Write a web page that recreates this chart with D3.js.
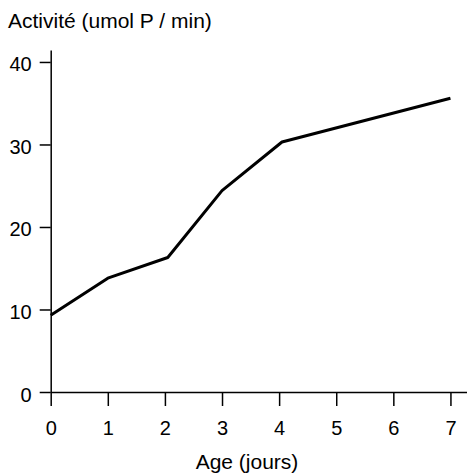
<!DOCTYPE html>
<html>
<head>
<meta charset="utf-8">
<script src="https://cdn.jsdelivr.net/npm/d3@7"></script>
<style>
  body { margin: 0; background: #fff; }
  svg { display: block; font-family: "Liberation Sans", Arial, sans-serif; }
  .axis path, .axis line { stroke: #000; stroke-width: 1.5; }
  .axis text { font-size: 20px; fill: #000; }
</style>
</head>
<body>
<div id="chart"></div>
<script>
// data
var ages = [0, 1, 2.05, 3, 4.05, 7];
var activity = [9.3, 13.8, 16.3, 24.4, 30.3, 35.6];
var xTicks = [0, 1, 2, 3, 4, 5, 6, 7];
var yTicks = [0, 10, 20, 30, 40];
var yTitle = "Activité (umol P / min)";
var xTitle = "Age (jours)";

var width = 467, height = 475;

var x = d3.scaleLinear()
    .domain([0, 7.29])
    .range([50.7, 467]);

var y = d3.scaleLinear()
    .domain([0, 41.45])
    .range([392, 50]);

var svg = d3.select("#chart").append("svg")
    .attr("width", width)
    .attr("height", height);

// axes ------------------------------------------------------------------
svg.append("g")
    .attr("class", "x axis")
    .attr("transform", "translate(0," + y(0) + ")")
    .call(d3.axisBottom(x).tickValues(xTicks).tickSizeInner(14).tickSizeOuter(0).tickPadding(15));

svg.append("g")
    .attr("class", "y axis")
    .attr("transform", "translate(" + x(0) + ",0)")
    .call(d3.axisLeft(y).tickValues(yTicks).tickSizeInner(11).tickSizeOuter(0).tickPadding(8))
  .selectAll("text")
    .attr("dy", "0.45em");

// titles
svg.append("text")
    .attr("x", 8)
    .attr("y", 28)
    .style("font-size", "21px")
    .text(yTitle);

svg.append("text")
    .attr("x", 247)
    .attr("y", 469)
    .attr("text-anchor", "middle")
    .style("font-size", "21px")
    .text(xTitle);

// the line
var line = d3.line()
    .x(function(d, i) { return x(ages[i]); })
    .y(function(d) { return y(d); });

svg.append("path")
    .attr("d", line(activity))
    .attr("fill", "none")
    .attr("stroke", "#000")
    .attr("stroke-width", 3)
    .attr("stroke-linejoin", "round");
</script>
</body>
</html>
